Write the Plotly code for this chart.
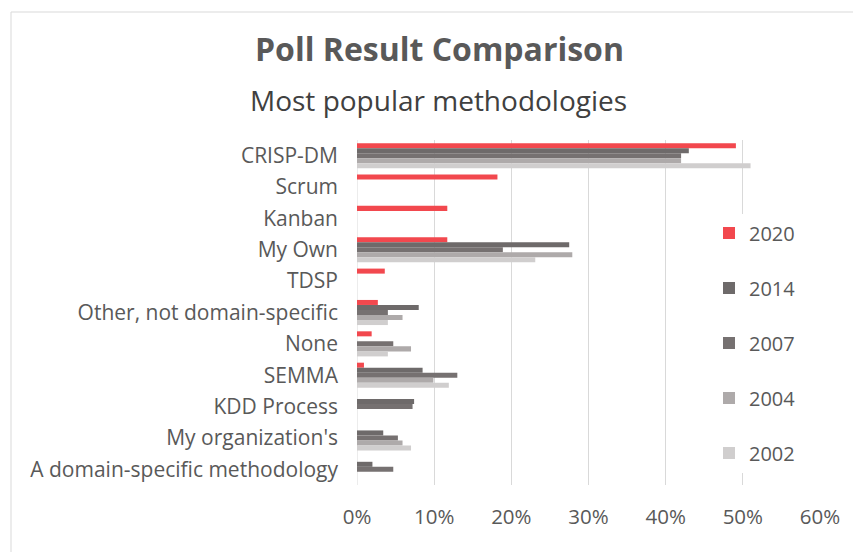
import plotly.graph_objects as go

categories = ["CRISP-DM", "Scrum", "Kanban", "My Own", "TDSP",
              "Other, not domain-specific", "None", "SEMMA", "KDD Process",
              "My organization's", "A domain-specific methodology"]
years = ["2020", "2014", "2007", "2004", "2002"]
v2020 = [49.1, 18.2, 11.7, 11.7, 3.6, 2.7, 1.9, 0.9, None, None, None]
v2014 = [43.0, None, None, 27.5, None, 8.0, None, 8.5, 7.4, 3.4, 2.0]
v2007 = [42.0, None, None, 18.9, None, 4.0, 4.7, 13.0, 7.2, 5.3, 4.7]
v2004 = [42.0, None, None, 27.9, None, 5.9, 7.0, 9.9, None, 5.9, None]
v2002 = [51.0, None, None, 23.1, None, 4.0, 4.0, 11.9, None, 7.0, None]
series = [v2020, v2014, v2007, v2004, v2002]
colors = ["#F2484E", "#6E6A6A", "#767171", "#AEAAAA", "#D0CECE"]

FONT = "Open Sans"
TXT = "#595959"

fig = go.Figure()
for name, vals, col in zip(years, series, colors):
    fig.add_trace(go.Bar(
        y=categories, x=vals, name=name, orientation="h",
        marker=dict(color=col, line=dict(width=0)),
        legendgroup=name,
    ))

W, H = 853, 552
L, R, T, B = 357, 33, 140, 67
pw, ph = W - L - R, H - T - B

fig.update_layout(
    width=W, height=H,
    margin=dict(l=L, r=R, t=T, b=B),
    paper_bgcolor="white", plot_bgcolor="white",
    barmode="group", bargap=0.2, bargroupgap=0,
    font=dict(family=FONT, color=TXT),
    showlegend=True,
    legend=dict(
        x=(709 - L) / pw, y=(H - B - 213.5) / ph, xanchor="left", yanchor="top",
        bgcolor="white", font=dict(size=20, color=TXT, family=FONT),
        tracegroupgap=26, traceorder="grouped",
    ),
    xaxis=dict(
        range=[0, 60], dtick=10, ticksuffix="%",
        showgrid=True, gridcolor="#D9D9D9", gridwidth=1,
        zeroline=False, showline=False,
        tickfont=dict(size=20.5, color=TXT, family=FONT),
        ticks="", fixedrange=True, ticklabelstandoff=17,
    ),
    yaxis=dict(
        autorange="reversed", showgrid=False, zeroline=False,
        showline=False, ticks="",
        tickfont=dict(size=21, color=TXT, family=FONT),
        ticklabelstandoff=18,
    ),
    annotations=[
        dict(text="<b>Poll Result Comparison</b>", xref="paper", yref="paper",
             x=(439 - L) / pw, y=(H - B - 48.5) / ph, xanchor="center", yanchor="middle",
             showarrow=False, font=dict(size=32, color=TXT, family=FONT)),
        dict(text="Most popular methodologies", xref="paper", yref="paper",
             x=(438 - L) / pw, y=(H - B - 100) / ph, xanchor="center", yanchor="middle",
             showarrow=False, font=dict(size=28, color="#404040", family=FONT)),
    ],
    shapes=[
        dict(type="rect", xref="paper", yref="paper",
             x0=(11 - L) / pw, x1=(W + 5 - L) / pw,
             y0=(H - B - (H + 5)) / ph, y1=(H - B - 12) / ph,
             line=dict(color="#D9D9D9", width=1), fillcolor="rgba(0,0,0,0)",
             layer="below"),
        dict(type="line", xref="x", yref="paper", x0=0, x1=0, y0=0, y1=1,
             line=dict(color="#D9D9D9", width=1), layer="below"),
    ],
)

fig.write_html("out.html")
